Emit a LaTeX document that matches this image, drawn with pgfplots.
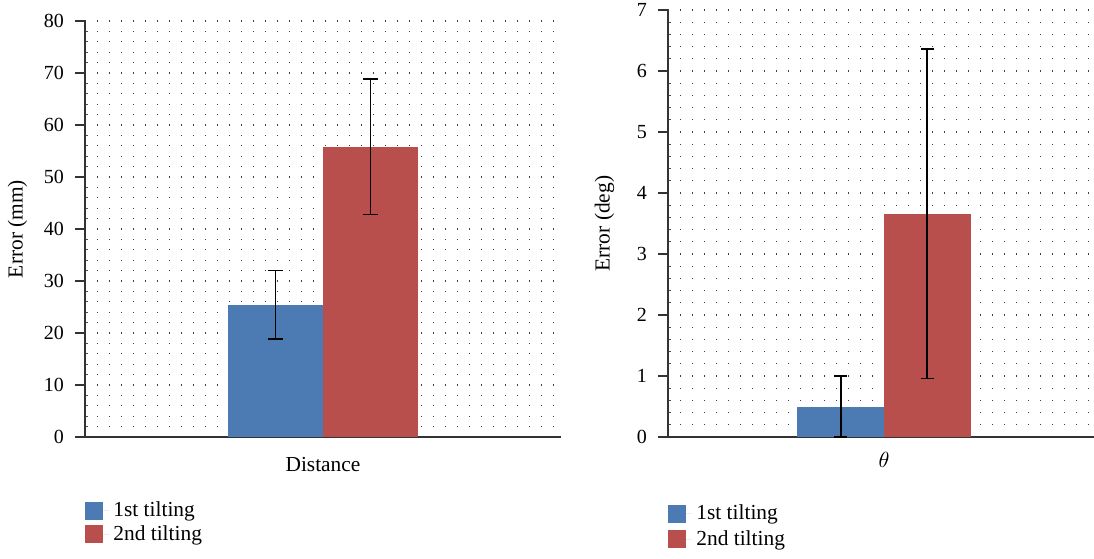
\documentclass[border=0pt]{standalone}
\usepackage{pgfplots}
\pgfplotsset{compat=1.18}
\usepackage{fontspec}
\setmainfont{Liberation Serif}
\definecolor{barblue}{RGB}{76,123,180}
\definecolor{barred}{RGB}{185,79,77}
\newcommand{\lblfont}{\fontsize{10.7}{12.8}\selectfont}
\pgfplotsset{
  mystyle/.style={
    scale only axis,
    axis x line*=bottom, axis y line*=left,
    axis line style={-, draw=black!80, line width=0.75pt},
    ybar=0pt,
    xmin=-1, xmax=1, xtick=\empty,
    ymin=0,
    minor y tick num=4,
    ymajorgrids, yminorgrids,
    major grid style={draw=black!75, line width=0.55pt, dash pattern=on 0.55pt off 5.45pt},
    minor grid style={draw=black!75, line width=0.55pt, dash pattern=on 0.55pt off 5.45pt},
    tick align=inside,
    major tick length=-5pt, minor tick length=1.5pt,
    tick style={draw=black!80, line width=0.75pt},
    minor tick style={draw=black!70, line width=0.5pt},
    yticklabel shift=7pt,
    /pgf/number format/assume math mode=true,
    yticklabel style={font=\normalsize},
    label style={font=\lblfont},
    legend style={draw=none, fill=none, inner sep=0pt, row sep=2pt,
      legend cell align=left, font=\lblfont,
      nodes={inner xsep=2pt, inner ysep=0.5pt}},
    legend image code/.code={\fill[#1] (0pt,-4.5pt) rectangle (9pt,4.5pt);
      \path (0pt,0pt) -- (12pt,0pt);},
    error bars/error bar style={black, line width=0.8pt},
  }
}
\begin{document}
\begin{tikzpicture}
\useasboundingbox (-42.5pt,-60.5pt) rectangle (504.5pt,218.5pt);
\begin{axis}[mystyle,
  at={(0pt,0pt)}, anchor=south west,
  width=238pt, height=208pt,
  ymax=80, ytick distance=10,
  bar width=47.5pt,
  ylabel={Error (mm)}, ylabel shift=1.5pt,
  xlabel={Distance}, xlabel style={yshift=-6.5pt},
  error bars/error mark options={black, line width=0.8pt, mark size=3.75pt, rotate=90},
  legend style={at={(0,-0.152)}, anchor=north west},
]
\addplot[fill=barblue, draw=none, error bars/.cd, y dir=both, y explicit]
  coordinates {(0,25.4) +- (0,6.6)};
\addplot[fill=barred, draw=none, error bars/.cd, y dir=both, y explicit]
  coordinates {(0,55.8) +- (0,13.0)};
\legend{1st tilting, 2nd tilting}
\end{axis}
\begin{axis}[mystyle,
  at={(291.5pt,0pt)}, anchor=south west,
  width=216pt, height=213.5pt,
  ymax=7, ytick distance=1,
  bar width=43.25pt,
  ylabel={Error (deg)}, ylabel shift=4.5pt,
  xlabel={$\theta$}, xlabel style={yshift=-4pt},
  error bars/error mark options={black, line width=0.8pt, mark size=3.25pt, rotate=90},
  legend style={at={(0,-0.155)}, anchor=north west, row sep=3pt},
]
\addplot[fill=barblue, draw=none, error bars/.cd, y dir=both, y explicit]
  coordinates {(0,0.5) +- (0,0.5)};
\addplot[fill=barred, draw=none, error bars/.cd, y dir=both, y explicit]
  coordinates {(0,3.66) +- (0,2.70)};
\legend{1st tilting, 2nd tilting}
\end{axis}
\end{tikzpicture}
\end{document}
